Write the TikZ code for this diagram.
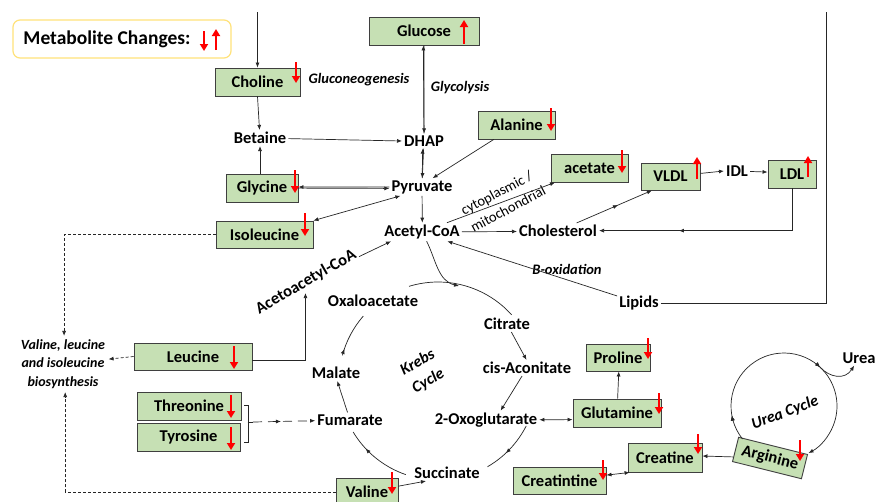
\documentclass[tikz,border=0pt]{standalone}
\usepackage{fontspec}
\setmainfont{Carlito}
\usetikzlibrary{arrows.meta,decorations.markings}
\definecolor{boxfill}{HTML}{C6E0B4}
\definecolor{boxline}{HTML}{3F3F3F}
\definecolor{lineg}{HTML}{262626}
\definecolor{arrred}{HTML}{FF0000}
\definecolor{legline}{HTML}{FFE27A}
\newcommand{\metfont}{\bfseries\fontsize{16.5}{19}\selectfont}
\newcommand{\labfont}{\bfseries\itshape\fontsize{14.5}{18}\selectfont}
\begin{document}
\begin{tikzpicture}[x=1pt,y=-1pt,
  box/.style={draw=boxline, fill=boxfill, line width=0.9pt, font=\metfont, inner sep=0pt, minimum height=28pt},
  met/.style={font=\metfont, inner sep=2pt},
  lab/.style={font=\labfont, inner sep=1pt},
  conn/.style={draw=lineg, line width=0.7pt, -{Latex[length=5pt,width=4pt]}},
  biconn/.style={draw=lineg, line width=0.7pt, {Latex[length=5pt,width=4pt]}-{Latex[length=5pt,width=4pt]}},
  plain/.style={draw=lineg, line width=0.7pt},
  dashconn/.style={conn, dash pattern=on 3pt off 2pt},
  redarr/.style={draw=arrred, line width=2.3pt, -{Triangle[length=7pt,width=8pt]}},
  midarrow/.style={postaction={decorate}, decoration={markings, mark=at position #1 with {\arrow{Latex[length=5pt,width=4pt]}}}}
]
\fill[white] (0,0) rectangle (877,501);
\useasboundingbox (0,0) rectangle (877,501);

% legend
\node[draw=legline, fill=white, line width=1.2pt, rounded corners=7pt, minimum width=218pt, minimum height=38pt, inner sep=0pt, font=\bfseries\fontsize{19.5}{22}\selectfont] (legend) at (122,39) {Metabolite Changes:\rule{30pt}{0pt}};

% boxes
\node[box, minimum width=85pt] (choline) at (257.5,82) {Choline};
\node[box, minimum width=110pt] (glucose) at (424,31) {Glucose};
\node[box, minimum width=77pt] (alanine) at (516.5,125) {Alanine};
\node[box, minimum width=72pt] (glycine) at (262,188) {Glycine};
\node[box, minimum width=97pt, minimum height=27pt] (isoleucine) at (264.5,234.5) {Isoleucine};
\node[box, minimum width=77pt] (acetate) at (589.5,168) {acetate};
\node[box, minimum width=59pt, minimum height=27pt] (vldl) at (670.5,176.5) {VLDL};
\node[box, minimum width=48pt] (ldl) at (792,174) {LDL};
\node[box, minimum width=118pt, minimum height=27pt] (leucine) at (193,356.5) {Leucine};
\node[box, minimum width=104pt] (threonine) at (189,406) {Threonine};
\node[box, minimum width=103pt] (tyrosine) at (188.5,437) {Tyrosine};
\node[box, minimum width=62pt] (valine) at (367,492) {Valine};
\node[box, minimum width=64pt, minimum height=27pt] (proline) at (618,357.5) {Proline};
\node[box, minimum width=88pt] (glutamine) at (617,413) {Glutamine};
\node[box, minimum width=93pt, minimum height=27pt] (creatintine) at (559.5,480.5) {Creatintine};
\node[box, minimum width=74pt, minimum height=29pt] (creatine) at (665,457.5) {Creatine};
\node[box, minimum width=71pt, minimum height=25pt, rotate=-14] (arginine) at (770,458) {Arginine};

% metabolites
\node[met] (betaine) at (260,138) {Betaine};
\node[met] (dhap) at (424,141) {DHAP};
\node[met] (pyruvate) at (422,187) {Pyruvate};
\node[met] (acetylcoa) at (422,232) {Acetyl-CoA};
\node[met] (cholesterol) at (558,231) {Cholesterol};
\node[met] (idl) at (737,171) {IDL};
\node[met] (lipids) at (639,303) {Lipids};
\node[met] (oxalo) at (373,301) {Oxaloacetate};
\node[met] (citrate) at (507,324) {Citrate};
\node[met] (cisacon) at (527,368) {cis-Aconitate};
\node[met] (oxoglut) at (486,420) {2-Oxoglutarate};
\node[met] (succinate) at (447,473) {Succinate};
\node[met] (fumarate) at (350,420) {Fumarate};
\node[met] (malate) at (336,373) {Malate};
\node[met] (urea) at (859,358) {Urea};
\node[met, rotate=30] (acetoacetyl) at (306,282) {Acetoacetyl-CoA};
\node[font=\bfseries\itshape\fontsize{14}{18.5}\selectfont, align=center] (biosyn) at (63,364) {Valine, leucine\\and isoleucine\\biosynthesis};

% labels
\node[lab] (gluconeo) at (359,80) {Gluconeogenesis};
\node[lab] (glycolysis) at (460,88) {Glycolysis};
\node[font=\fontsize{14.5}{17}\selectfont, rotate=28, inner sep=0pt] (cyto) at (497,194) {cytoplasmic /};
\node[font=\fontsize{14.5}{17}\selectfont, rotate=28, inner sep=0pt] (mito) at (508,209) {mitochondrial};
\node[lab] (boxid) at (567,269) {B-oxidation};
\node[font=\bfseries\itshape\fontsize{16}{21}\selectfont, rotate=30, align=center] (krebs) at (423,372) {Krebs\\Cycle};
\node[font=\bfseries\itshape\fontsize{16}{19}\selectfont, rotate=21] (ureacyc) at (785,413) {Urea Cycle};

% coordinates
\coordinate (ctop) at (257.5,12);
\coordinate (rtop) at (826,12);
\coordinate (rcorner) at (826,303);
\coordinate (kc) at (438,381);
\coordinate (uc) at (784,406);
\coordinate (kjoin) at (459,286);
\coordinate (brk) at (248,422);

% connectors
\draw[conn] (ctop) -- (choline.north);
\draw[conn] (choline.south) -- ([shift={(-2,-16)}]betaine);
\draw[conn] ([xshift=-2pt]glycine.north) -- ([shift={(0,17)}]betaine);
\draw[conn] ([shift={(66,3)}]betaine) -- ([shift={(-38,0)}]dhap);
\draw[conn] ([shift={(-4,-20)}]dhap) -- ([shift={(-4,18)}]glucose);
\draw[conn] ([shift={(1,18)}]glucose) -- ([shift={(1,-20)}]dhap);
\draw[conn] ([shift={(-3,-17)}]pyruvate) -- ([shift={(-5,14)}]dhap);
\draw[conn] ([shift={(-1,14)}]dhap) -- ([shift={(1,-17)}]pyruvate);
\draw[conn] ([shift={(-40.5,17)}]alanine) -- ([shift={(30,-20)}]pyruvate);
\draw[conn] ([shift={(-50,-2)}]pyruvate) -- ([shift={(45,-3)}]glycine);
\draw[conn] ([shift={(45,4)}]glycine) -- ([shift={(-50,5)}]pyruvate);
\draw[biconn] ([shift={(52.5,-4.5)}]isoleucine) -- ([shift={(-29,10)}]pyruvate);
\draw[conn] ([shift={(1,14)}]pyruvate) -- ([shift={(1,-16)}]acetylcoa);
\draw[conn] ([shift={(36,-9)}]acetylcoa) -- ([shift={(-44.5,9)}]acetate);
\draw[conn] ([shift={(51,0)}]acetylcoa) -- ([shift={(-50,1)}]cholesterol);
\draw[conn, midarrow=0.55] ([shift={(49,-7)}]cholesterol) -- ([shift={(-33.5,17.5)}]vldl);
\draw[conn] ([shift={(32.5,-5.5)}]vldl) -- ([shift={(-15,0)}]idl);
\draw[conn] ([shift={(17,0)}]idl) -- ([shift={(-26,-3)}]ldl);
\draw[conn, midarrow=0.66] (ldl.south) |- ([shift={(55,-2)}]cholesterol);
\draw[conn] ([shift={(-31,-3)}]lipids) -- ([shift={(43,21)}]acetylcoa);
\draw[plain] (lipids.east) -- (rcorner) -- (rtop);
\draw[conn] ([shift={(23,13)}]acetylcoa) .. controls (436,260) and (438,281) .. (kjoin);

% Krebs cycle arcs
\draw[plain] ([shift={(-107:99)}]kc) arc[start angle=-107, end angle=-42, radius=99];
\draw[conn] ([shift={(18,11)}]citrate) -- ([shift={(4,-15)}]cisacon);
\draw[conn] ([shift={(9,20)}]cisacon) -- ([shift={(46,-13)}]oxoglut);
\draw[plain, midarrow=0.6] ([shift={(27:99)}]kc) arc[start angle=27, end angle=60, radius=99];
\draw[plain, midarrow=0.7] ([shift={(109:99)}]kc) arc[start angle=109, end angle=149, radius=99];
\draw[conn] ([shift={(-10,-22)}]fumarate) -- ([shift={(3,12)}]malate);
\draw[plain, midarrow=0.15] ([shift={(195:99)}]kc) arc[start angle=195, end angle=221, radius=99];

% amino acid links
\draw[conn] ([shift={(3,-20)}]glutamine) -- ([shift={(2,17.5)}]proline);
\draw[biconn] ([shift={(57,4)}]oxoglut) -- ([shift={(-50,4)}]glutamine);
\draw[conn] ([shift={(33,-1)}]valine) -- ([shift={(-20,9)}]succinate);
\draw[dashconn] (valine.west) -| ([shift={(10,43)}]biosyn);
\draw[dashconn] (isoleucine.west) -| ([shift={(5,-46)}]biosyn);
\draw[dashconn] (leucine.west) -- ([shift={(47,-7.5)}]biosyn);
\draw[conn] ([yshift=-3.5pt]leucine.east) -| ([shift={(-4,14)}]acetoacetyl);
\draw[conn] ([shift={(56,-32)}]acetoacetyl) -- ([shift={(-40,8)}]acetylcoa);
\draw[plain] ([shift={(3,-1)}]threonine.east) -- ++(4,0) |- ([shift={(4,5)}]tyrosine.east);
\draw[plain] ([xshift=-0.5pt]brk) -- ++(5,0);
\draw[conn, dash pattern=on 9pt off 6pt, midarrow=0.45] ([xshift=5pt]brk) -- ([shift={(-35,2)}]fumarate);

% urea cycle
\coordinate (uexit) at ([shift={(-47.4:53)}]uc);
\draw[conn, midarrow=0.1, midarrow=0.61] ([shift={(141.5:53)}]uc) arc[start angle=141.5, end angle=422.5, radius=53];
\draw[conn] (uexit) .. controls (830,378) and (845,380) .. ([shift={(-2,14)}]urea);
\draw[conn] ([shift={(-42,-3)}]arginine) -- ([shift={(38,-2.5)}]creatine);
\draw[biconn] ([shift={(47.5,1.5)}]creatintine) -- ([shift={(-38,13.5)}]creatine);

% red change arrows
\draw[redarr] (204,31) -- (204,51);
\draw[redarr] (216,50) -- (216,29);
\draw[redarr] (296,62) -- (296,83);
\draw[redarr] (464,44) -- (464,20);
\draw[redarr] (551,108) -- (551,131);
\draw[redarr] (295,170) -- (295,193);
\draw[redarr] (305,213) -- (305,236);
\draw[redarr] (622,150) -- (622,173);
\draw[redarr] (697,179) -- (697,157);
\draw[redarr] (808,177) -- (808,156);
\draw[redarr] (234,346) -- (234,369);
\draw[redarr] (231,395) -- (231,418);
\draw[redarr] (231,427) -- (231,450);
\draw[redarr] (392,472) -- (392,494);
\draw[redarr] (648,338) -- (648,359);
\draw[redarr] (659,393) -- (659,414);
\draw[redarr] (603,460) -- (603,480);
\draw[redarr] (698,434) -- (698,454);
\draw[redarr] (800,440) -- (800,461);
\end{tikzpicture}
\end{document}
